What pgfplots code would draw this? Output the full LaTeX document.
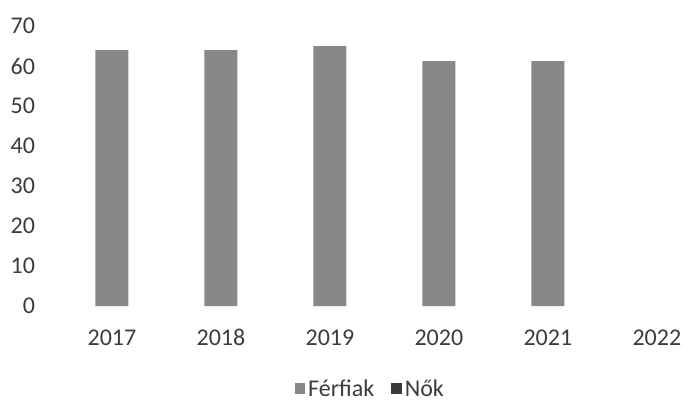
\documentclass[border=0pt]{standalone}
\usepackage{fontspec}
\setmainfont{Carlito}
\usepackage{pgfplots}
\pgfplotsset{compat=1.18}
\definecolor{barA}{HTML}{888888}
\definecolor{barB}{HTML}{3A3A3A}
\definecolor{txt}{HTML}{3C3C3C}
\pgfplotsset{sqlegend/.style={legend image code/.code={\fill[##1] (0bp,-5.5bp) rectangle (10.5bp,5.5bp);}}}
\begin{document}
\begin{tikzpicture}
\begin{axis}[
  at={(0,0)}, anchor=south west,
  scale only axis,
  width=625.5bp, height=280bp,
  xmin=-0.5, xmax=5.24,
  ymin=0, ymax=70,
  ytick={0,10,...,70},
  xtick={0,1,2,3,4,5},
  xticklabels={2017,2018,2019,2020,2021,2022},
  axis line style={draw=none},
  major tick length=0pt,
  tick label style={font=\fontsize{24bp}{28bp}\selectfont, text=txt},
  /pgf/number format/assume math mode=true,
  yticklabel style={anchor=east, xshift=-19bp},
  xticklabel style={anchor=base, yshift=-39bp},
  ybar, bar width=33bp,
  legend columns=2,
  legend style={draw=none, font=\fontsize{24bp}{28bp}\selectfont, text=txt,
    at={(0.5,-0.296)}, anchor=center,
    /tikz/every odd column/.append style={column sep=1bp},
    inner sep=0pt},
]
\addplot[fill=barA, draw=none, sqlegend]
  coordinates {(0,64) (1,64) (2,65) (3,61.2) (4,61.2)};
\addlegendentry{Férfiak\hspace*{15bp}}
\addlegendimage{fill=barB, draw=none, sqlegend}
\addlegendentry{Nők}
\end{axis}
\pgfresetboundingbox
\path (-57.5bp,-95bp) rectangle (625.5bp,306bp);
\end{tikzpicture}
\end{document}
